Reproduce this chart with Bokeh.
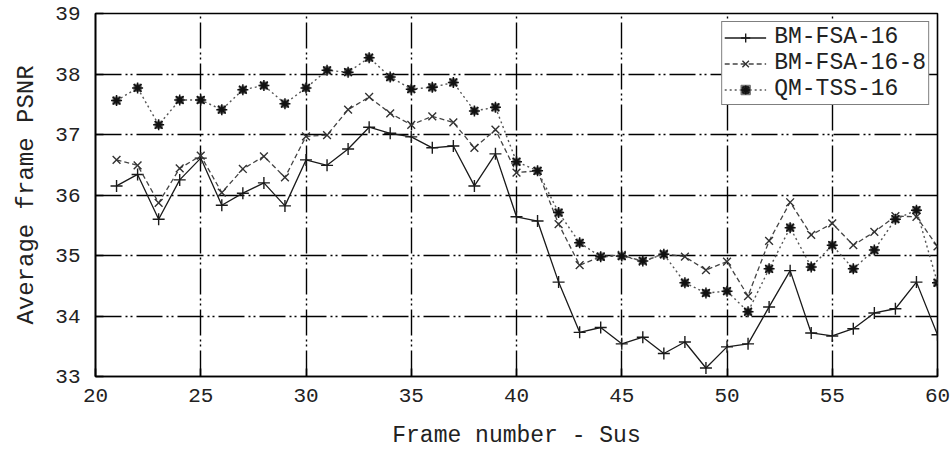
from bokeh.plotting import figure
from bokeh.models import Range1d, FixedTicker, Legend, LegendItem
from bokeh.embed import file_html
from bokeh.resources import INLINE

frames = list(range(21, 61))
bm_fsa_16 = [36.15, 36.34, 35.60, 36.25, 36.61, 35.83, 36.03, 36.20, 35.82, 36.58,
             36.49, 36.76, 37.12, 37.02, 36.96, 36.78, 36.81, 36.15, 36.68, 35.64,
             35.57, 34.56, 33.73, 33.81, 33.54, 33.65, 33.38, 33.57, 33.14, 33.49,
             33.54, 34.15, 34.75, 33.72, 33.67, 33.79, 34.05, 34.12, 34.56, 33.69]
bm_fsa_16_8 = [36.58, 36.49, 35.87, 36.44, 36.65, 36.04, 36.43, 36.64, 36.29, 36.97,
               36.99, 37.41, 37.62, 37.35, 37.16, 37.30, 37.20, 36.78, 37.08, 36.37,
               36.40, 35.52, 34.84, 34.98, 35.01, 34.90, 35.03, 34.98, 34.76, 34.90,
               34.33, 35.24, 35.88, 35.34, 35.53, 35.17, 35.39, 35.65, 35.64, 35.15]
qm_tss_16 = [37.56, 37.77, 37.16, 37.57, 37.57, 37.41, 37.74, 37.81, 37.51, 37.77,
             38.06, 38.03, 38.27, 37.95, 37.75, 37.78, 37.86, 37.39, 37.45, 36.55,
             36.40, 35.71, 35.21, 34.98, 34.99, 34.91, 35.02, 34.55, 34.38, 34.41,
             34.07, 34.78, 35.46, 34.81, 35.17, 34.78, 35.09, 35.60, 35.75, 34.55]
x_ticks = [20, 25, 30, 35, 40, 45, 50, 55, 60]
y_ticks = [33, 34, 35, 36, 37, 38, 39]
series_names = ["BM-FSA-16", "BM-FSA-16-8", "QM-TSS-16"]
x_label = "Frame number - Sus"
y_label = "Average frame PSNR"

FONT = "Liberation Mono"

p = figure(width=951, height=462, output_backend="svg", toolbar_location=None,
           x_range=Range1d(20, 60), y_range=Range1d(33, 39),
           min_border_left=95, min_border_right=14, min_border_top=13, min_border_bottom=86)
p.background_fill_color = "white"
p.border_fill_color = "white"
p.outline_line_color = "black"
p.outline_line_width = 1.6

for ax in (p.xaxis[0], p.yaxis[0]):
    ax.major_label_text_font = FONT
    ax.major_label_text_font_size = "21px"
    ax.major_label_text_color = "#222222"
    ax.axis_label_text_font = FONT
    ax.axis_label_text_font_style = "normal"
    ax.axis_label_text_color = "#222222"
    ax.axis_line_color = "black"
    ax.axis_line_width = 1.6
    ax.major_tick_in = 8
    ax.major_tick_out = 0
    ax.major_tick_line_color = "black"
    ax.major_tick_line_width = 1.6
    ax.minor_tick_line_color = None

p.xaxis[0].ticker = FixedTicker(ticks=x_ticks)
p.yaxis[0].ticker = FixedTicker(ticks=y_ticks)
p.xaxis[0].axis_label = x_label
p.yaxis[0].axis_label = y_label
p.xaxis[0].axis_label_text_font_size = "23px"
p.yaxis[0].axis_label_text_font_size = "24px"
p.xaxis[0].major_label_standoff = 12
p.yaxis[0].major_label_standoff = 15
p.xaxis[0].axis_label_standoff = 18
p.yaxis[0].axis_label_standoff = 12

for g in (p.xgrid[0], p.ygrid[0]):
    g.grid_line_color = "black"
    g.grid_line_width = 1.4
    g.grid_line_dash = "26 4 2 3 2 4"
p.xgrid[0].ticker = FixedTicker(ticks=x_ticks)
p.ygrid[0].ticker = FixedTicker(ticks=y_ticks)

l1 = p.line(frames, bm_fsa_16, line_color="#1a1a1a", line_width=1.3)
m1 = p.scatter(frames, bm_fsa_16, marker="cross", size=12, line_color="#1a1a1a", line_width=1.4)

l2 = p.line(frames, bm_fsa_16_8, line_color="#444444", line_width=1.3, line_dash="5 3")
m2 = p.scatter(frames, bm_fsa_16_8, marker="x", size=11, line_color="#333333", line_width=1.4)

l3 = p.line(frames, qm_tss_16, line_color="#555555", line_width=1.4, line_dash="2 3")
m3 = p.scatter(frames, qm_tss_16, marker="square_x", size=7, fill_color="#222222",
               line_color="#777777", line_width=1.2)
m3b = p.scatter(frames, qm_tss_16, marker="asterisk", size=11, line_color="#111111", line_width=1.5)

legend = Legend(items=[
    LegendItem(label=series_names[0], renderers=[l1, m1]),
    LegendItem(label=series_names[1], renderers=[l2, m2]),
    LegendItem(label=series_names[2], renderers=[l3, m3, m3b]),
], location="top_right")
legend.label_text_font = FONT
legend.label_text_font_size = "23px"
legend.label_text_color = "#222222"
legend.border_line_color = "black"
legend.border_line_width = 1.6
legend.background_fill_alpha = 1.0
legend.spacing = 0
legend.padding = 2
legend.margin = 8
legend.label_height = 23
legend.glyph_height = 23
legend.glyph_width = 42
legend.label_standoff = 8
p.add_layout(legend)

open("out.html", "w").write(file_html(p, INLINE))
